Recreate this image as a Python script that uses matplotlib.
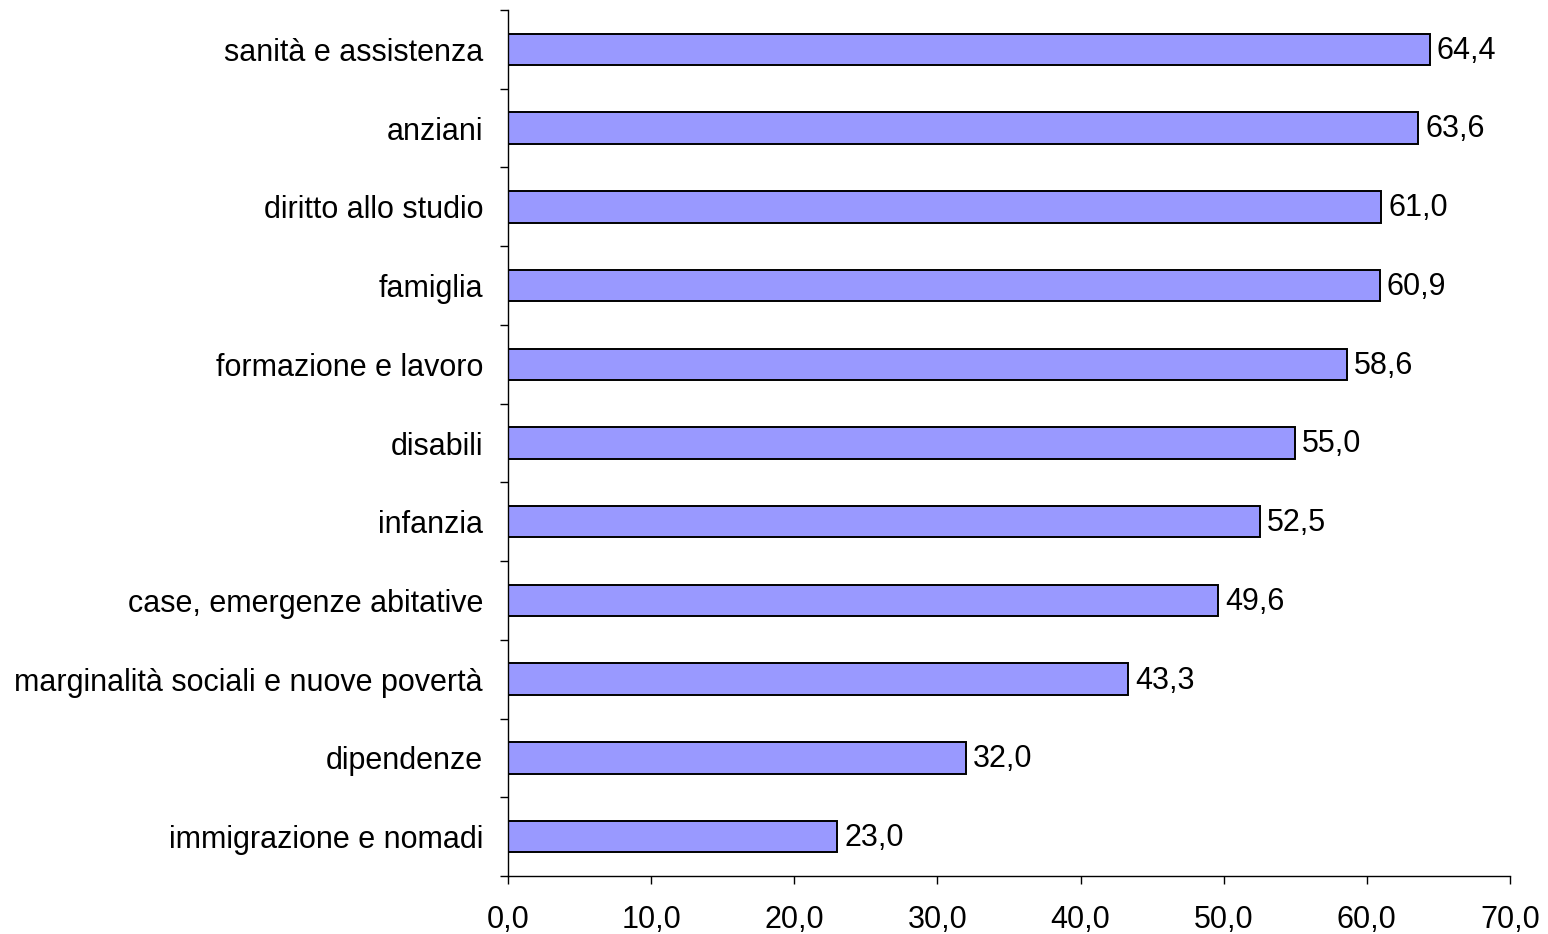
import matplotlib
matplotlib.use("Agg")
import matplotlib.pyplot as plt
import matplotlib.ticker as ticker
import numpy as np

# ── Data ────────────────────────────────────────────────────────────────────
categories = [
    "sanità e assistenza",
    "anziani",
    "diritto allo studio",
    "famiglia",
    "formazione e lavoro",
    "disabili",
    "infanzia",
    "case, emergenze abitative",
    "marginalità sociali e nuove povertà",
    "dipendenze",
    "immigrazione e nomadi",
]
values = [64.4, 63.6, 61.0, 60.9, 58.6, 55.0, 52.5, 49.6, 43.3, 32.0, 23.0]
x_ticks = [0, 10, 20, 30, 40, 50, 60, 70]


def _comma(v, _=None):
    return f"{v:.1f}".replace(".", ",")


plt.rcParams["font.family"] = ["Liberation Sans", "DejaVu Sans"]

fig = plt.figure(figsize=(15.48, 9.34), dpi=100)
ax = fig.add_axes([508 / 1548, 1 - 876 / 934, (1510 - 508) / 1548, (876 - 10) / 934])

y = np.arange(len(categories))
bars = ax.barh(y, values, height=0.4, color="#9999FF", edgecolor="black", linewidth=1.4)

# value labels just past the end of each bar
for bar, val in zip(bars, values):
    ax.annotate(
        _comma(val),
        xy=(bar.get_width(), bar.get_y() + bar.get_height() / 2),
        xytext=(5, -1), textcoords="offset points",
        ha="left", va="center", fontsize=22,
    )

ax.set_xlim(0, 70)
ax.set_ylim(len(categories) - 0.5, -0.5)

ax.set_xticks(x_ticks)
ax.xaxis.set_major_formatter(ticker.FuncFormatter(_comma))
ax.tick_params(axis="x", direction="out", length=6, width=1, pad=15, labelsize=22)

ax.set_yticks(y)
ax.set_yticklabels(categories)
ax.set_yticks(np.arange(-0.5, len(categories), 1), minor=True)
ax.tick_params(axis="y", which="major", length=0, pad=18, labelsize=22)
ax.tick_params(axis="y", which="minor", direction="out", length=6, width=1)

for side in ("top", "right"):
    ax.spines[side].set_visible(False)
for side in ("left", "bottom"):
    ax.spines[side].set_linewidth(1)

fig.savefig("out.png", dpi=100)
